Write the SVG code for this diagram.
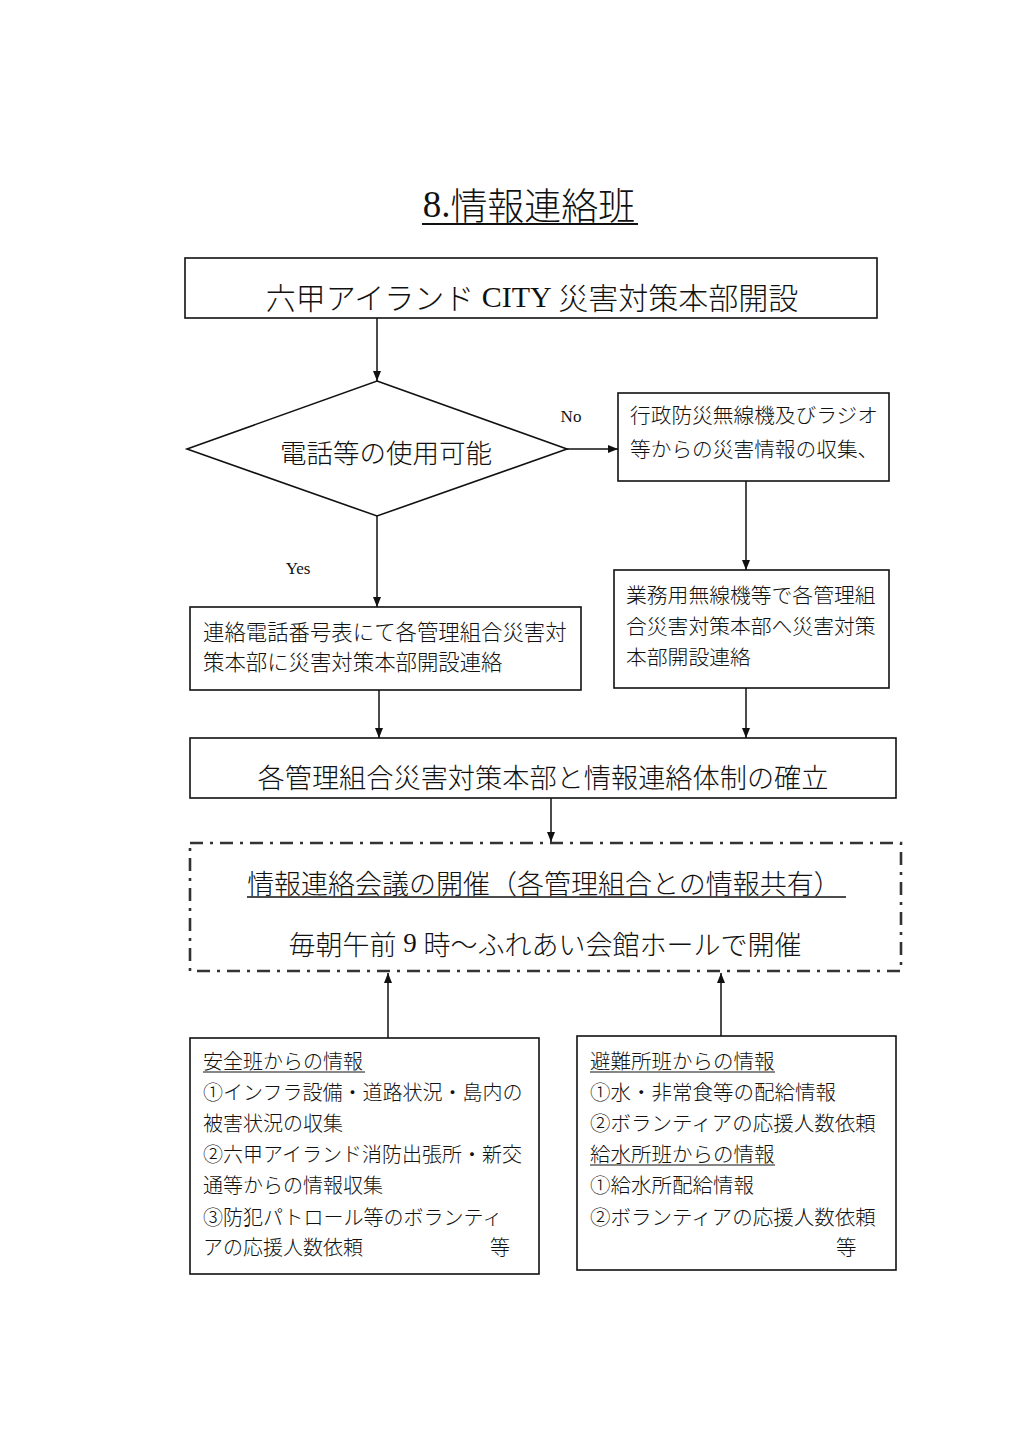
<svg xmlns="http://www.w3.org/2000/svg" width="1024" height="1449" viewBox="0 0 1024 1449">
<style>
.bx{fill:none;stroke:#111;stroke-width:1.6}
.ln{fill:none;stroke:#111;stroke-width:1.5}
.t{font-family:"Liberation Serif","Noto Sans CJK JP",serif;fill:#111;dominant-baseline:central}
.j{font-family:"Noto Sans CJK JP","Liberation Sans",sans-serif;fill:#111;dominant-baseline:central;font-weight:300}
.dash{fill:none;stroke:#333;stroke-width:2.6;stroke-dasharray:13 7 3 7}
</style>
<defs>
<marker id="ah" viewBox="0 0 10 10" refX="10" refY="5" markerWidth="10" markerHeight="10" markerUnits="userSpaceOnUse" orient="auto">
<path d="M0,1 L10,5 L0,9 Z" fill="#111"/>
</marker>
</defs>
<rect width="1024" height="1449" fill="#fff"/>

<g id="title">
<text class="t" x="529" y="204" font-size="37" text-anchor="middle">8.<tspan class="j" style="font-weight:300">情報連絡班</tspan></text>
<line x1="422" y1="224" x2="638" y2="224" stroke="#111" stroke-width="1.8"/>
</g>

<g id="n1">
<rect class="bx" x="185" y="258" width="692" height="60"/>
<text class="j" x="532" y="296" font-size="30" text-anchor="middle">六甲アイランド<tspan class="t" style="font-weight:normal"> CITY </tspan>災害対策本部開設</text>
</g>

<g id="n2">
<polygon class="bx" points="377,381 567,449 377,516 187,449"/>
<text class="j" x="386" y="451" font-size="26.5" text-anchor="middle">電話等の使用可能</text>
</g>

<g id="n3">
<rect class="bx" x="618" y="393" width="271" height="88"/>
<text class="j" x="630" y="414" font-size="20.7">行政防災無線機及びラジオ</text>
<text class="j" x="630" y="448" font-size="20.7">等からの災害情報の収集、</text>
</g>

<g id="n4">
<rect class="bx" x="614" y="570" width="275" height="118"/>
<text class="j" x="626" y="594" font-size="20.8">業務用無線機等で各管理組</text>
<text class="j" x="626" y="625" font-size="20.8">合災害対策本部へ災害対策</text>
<text class="j" x="626" y="656" font-size="20.8">本部開設連絡</text>
</g>

<g id="n5">
<rect class="bx" x="190" y="607" width="391" height="83"/>
<text class="j" x="203" y="630" font-size="21.4">連絡電話番号表にて各管理組合災害対</text>
<text class="j" x="203" y="660" font-size="21.4">策本部に災害対策本部開設連絡</text>
</g>

<g id="n6">
<rect class="bx" x="190" y="738" width="706" height="60"/>
<text class="j" x="543" y="776" font-size="27.2" text-anchor="middle">各管理組合災害対策本部と情報連絡体制の確立</text>
</g>

<g id="n7">
<rect class="dash" x="190" y="843" width="711" height="128"/>
<text class="j" x="544" y="882" font-size="27" text-anchor="middle">情報連絡会議の開催（各管理組合との情報共有）</text>
<line x1="247" y1="897" x2="846" y2="897" stroke="#111" stroke-width="1.5"/>
<text class="j" x="545" y="943" font-size="27" text-anchor="middle">毎朝午前<tspan class="t" style="font-weight:normal"> 9 </tspan>時～ふれあい会館ホールで開催</text>
</g>

<g id="n8">
<rect class="bx" x="190" y="1038" width="349" height="236"/>
<text class="j" x="203" y="1060" font-size="20">安全班からの情報</text>
<line x1="203" y1="1072" x2="365" y2="1072" stroke="#111" stroke-width="1.2"/>
<text class="j" x="203" y="1091" font-size="20">①インフラ設備・道路状況・島内の</text>
<text class="j" x="203" y="1122" font-size="20">被害状況の収集</text>
<text class="j" x="203" y="1153" font-size="20">②六甲アイランド消防出張所・新交</text>
<text class="j" x="203" y="1184" font-size="20">通等からの情報収集</text>
<text class="j" x="203" y="1216" font-size="20">③防犯パトロール等のボランティ</text>
<text class="j" x="203" y="1246" font-size="20">アの応援人数依頼</text>
<text class="j" x="490" y="1246" font-size="20">等</text>
</g>

<g id="n9">
<rect class="bx" x="577" y="1036" width="319" height="234"/>
<text class="j" x="590" y="1060" font-size="20.5">避難所班からの情報</text>
<line x1="590" y1="1072" x2="775" y2="1072" stroke="#111" stroke-width="1.2"/>
<text class="j" x="590" y="1091" font-size="20.5">①水・非常食等の配給情報</text>
<text class="j" x="590" y="1122" font-size="20.5">②ボランティアの応援人数依頼</text>
<text class="j" x="590" y="1153" font-size="20.5">給水所班からの情報</text>
<line x1="590" y1="1165" x2="775" y2="1165" stroke="#111" stroke-width="1.2"/>
<text class="j" x="590" y="1184" font-size="20.5">①給水所配給情報</text>
<text class="j" x="590" y="1216" font-size="20.5">②ボランティアの応援人数依頼</text>
<text class="j" x="836" y="1246" font-size="20.5">等</text>
</g>

<g id="connectors">
<line class="ln" x1="377" y1="318" x2="377" y2="381" marker-end="url(#ah)"/>
<line class="ln" x1="567" y1="449" x2="618" y2="449" marker-end="url(#ah)"/>
<text class="t" x="571" y="416" font-size="17" text-anchor="middle">No</text>
<line class="ln" x1="746" y1="481" x2="746" y2="570" marker-end="url(#ah)"/>
<line class="ln" x1="377" y1="516" x2="377" y2="607" marker-end="url(#ah)"/>
<text class="t" x="298" y="568" font-size="17" text-anchor="middle">Yes</text>
<line class="ln" x1="379" y1="690" x2="379" y2="738" marker-end="url(#ah)"/>
<line class="ln" x1="746" y1="688" x2="746" y2="738" marker-end="url(#ah)"/>
<line class="ln" x1="551" y1="798" x2="551" y2="842" marker-end="url(#ah)"/>
<line class="ln" x1="388" y1="1038" x2="388" y2="973" marker-end="url(#ah)"/>
<line class="ln" x1="721" y1="1036" x2="721" y2="973" marker-end="url(#ah)"/>
</g>
</svg>
